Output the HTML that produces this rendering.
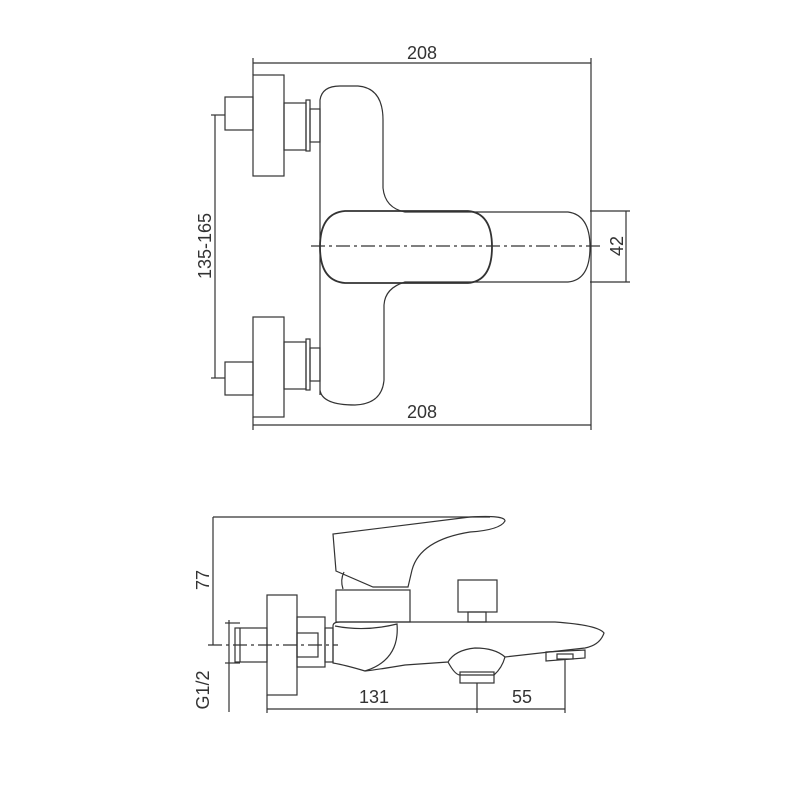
<!DOCTYPE html>
<html><head><meta charset="utf-8"><style>
html,body{margin:0;padding:0;background:#fff;}
svg{display:block;}
text{font-family:"Liberation Sans",sans-serif;fill:#333;font-size:18px;}
</style></head><body>
<svg width="800" height="800" viewBox="0 0 800 800" xmlns="http://www.w3.org/2000/svg">
<g fill="none" stroke="#333" stroke-width="1.2">
<line x1="253" y1="63" x2="591" y2="63"/>
<line x1="253" y1="58" x2="253" y2="75"/>
<line x1="591" y1="58" x2="591" y2="430"/>
<rect x="253" y="75" width="31" height="101"/>
<rect x="225" y="97" width="28" height="33"/>
<rect x="284" y="103" width="22" height="47"/>
<rect x="306" y="100" width="4" height="51"/>
<rect x="310" y="109" width="10" height="33"/>
<rect x="253" y="317" width="31" height="100"/>
<rect x="225" y="362" width="28" height="33"/>
<rect x="284" y="342" width="22" height="47"/>
<rect x="306" y="339" width="4" height="51"/>
<rect x="310" y="348" width="10" height="33"/>
<path d="M320 395 L320 100 Q322 86 340 86 L358 86 Q383 88 383 120 L383 188 Q385 208 405 212 L568 212 Q590 215 590 247 Q590 280 568 282 L405 282 Q385 288 384 305 L384 380 Q382 404 355 405 Q322 405 320 390"/>
<path d="M345 211 L468 211 Q492 213 492 247 Q492 281 468 283 L345 283 Q320 281 320 247 Q320 213 345 211 Z" stroke-width="1.8"/>
<line x1="311" y1="246" x2="600" y2="246" stroke-dasharray="14,4,3,4"/>
<line x1="590" y1="211" x2="630" y2="211"/>
<line x1="590" y1="282" x2="630" y2="282"/>
<line x1="626" y1="211" x2="626" y2="282"/>
<line x1="215" y1="115" x2="215" y2="378"/>
<line x1="211" y1="115" x2="225" y2="115"/>
<line x1="211" y1="378" x2="225" y2="378"/>
<line x1="253" y1="417" x2="253" y2="430"/>
<line x1="253" y1="425" x2="591" y2="425"/>

<line x1="213" y1="517" x2="490" y2="517"/>
<line x1="213" y1="517" x2="213" y2="645"/>
<line x1="208" y1="645" x2="338" y2="645" stroke-dasharray="14,4,3,4"/>
<line x1="229" y1="620" x2="229" y2="712"/>
<line x1="225" y1="623" x2="240" y2="623"/>
<line x1="225" y1="663" x2="240" y2="663"/>
<rect x="235" y="628" width="32" height="34"/>
<line x1="240" y1="628" x2="240" y2="662"/>
<rect x="267" y="595" width="30" height="100"/>
<rect x="297" y="617" width="28" height="50"/>
<rect x="297" y="633" width="21" height="24"/>
<rect x="325" y="628" width="8" height="34"/>
<path d="M336 571 L333 534 L470 517 Q505 515 505 521 Q500 530 470 532 Q420 540 412 570 L408 587 L373 587 Z"/>
<path d="M343 589 Q340 580 344 572"/>
<rect x="336" y="590" width="74" height="32"/>
<rect x="458" y="580" width="39" height="32"/>
<rect x="468" y="612" width="18" height="10"/>
<path d="M333 626 Q333 622 340 622 L555 622 Q598 625 604 633 Q600 645 585 648 L505 657 Q495 648 475 648 Q455 650 448 662 L405 665 Q375 670 365 671 Q345 665 333 663 Z"/>
<path d="M335 626 Q365 632 397 624 Q400 660 365 671"/>
<path d="M448 662 Q455 675 460 675 L494 675 Q502 668 505 657"/>
<rect x="460" y="672" width="34" height="11"/>
<path d="M546 661 L546 652 L585 650 L585 658 Z"/>
<rect x="557" y="654" width="16" height="5"/>
<line x1="267" y1="695" x2="267" y2="713"/>
<line x1="477" y1="683" x2="477" y2="713"/>
<line x1="565" y1="659" x2="565" y2="713"/>
<line x1="267" y1="709" x2="565" y2="709"/>
</g>
<text x="422" y="59" text-anchor="middle">208</text>
<text x="422" y="418" text-anchor="middle">208</text>
<text transform="translate(623,246) rotate(-90)" text-anchor="middle">42</text>
<text transform="translate(211,246) rotate(-90)" text-anchor="middle">135-165</text>
<text transform="translate(209,580) rotate(-90)" text-anchor="middle">77</text>
<text transform="translate(209,690) rotate(-90)" text-anchor="middle">G1/2</text>
<text x="374" y="703" text-anchor="middle">131</text>
<text x="522" y="703" text-anchor="middle">55</text>
</svg>
</body></html>
